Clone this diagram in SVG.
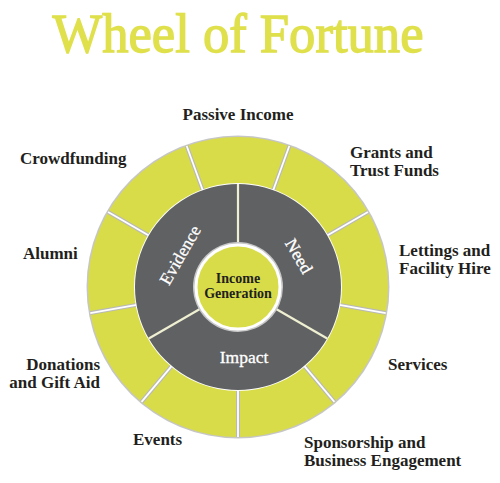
<svg xmlns="http://www.w3.org/2000/svg" width="500" height="483" viewBox="0 0 500 483">
<style>
.lbl{font-family:"Liberation Serif","Times New Roman",serif;font-weight:bold;font-size:17px;fill:#231f20}
.seg{fill:#d8dc48}
.core{fill:#606163}
.in{font-family:"Liberation Serif","Times New Roman",serif;font-size:17.5px;fill:#ffffff;text-anchor:middle;stroke:#ffffff;stroke-width:0.3}
.div1{stroke:#b9b9b9;stroke-width:4}
.div2{stroke:#ffffff;stroke-width:1.8}
.div3{stroke:#efefd2;stroke-width:2.2}
</style>
<rect width="500" height="483" fill="#ffffff"/>
<text x="238" y="52" text-anchor="middle" font-family="Liberation Serif, Times New Roman, serif" font-size="54" fill="#dfe04b" stroke="#dfe04b" stroke-width="1.3" textLength="371" lengthAdjust="spacingAndGlyphs">Wheel of Fortune</text>

<circle cx="238" cy="287" r="151.5" fill="#c6c6c6"/>

<g id="passive-income">
<path class="seg" d="M186.70 146.05 A150 150 0 0 1 289.30 146.05 L273.23 190.21 A103 103 0 0 0 202.77 190.21 Z"/>
<text class="lbl" x="238" y="120" text-anchor="middle">Passive Income</text>
</g>
<g id="grants">
<path class="seg" d="M289.30 146.05 A150 150 0 0 1 367.90 212.00 L327.20 235.50 A103 103 0 0 0 273.23 190.21 Z"/>
<text class="lbl" x="350" y="158">Grants and</text>
<text class="lbl" x="350" y="176">Trust Funds</text>
</g>
<g id="lettings">
<path class="seg" d="M367.90 212.00 A150 150 0 0 1 385.72 313.04 L339.43 304.88 A103 103 0 0 0 327.20 235.50 Z"/>
<text class="lbl" x="399" y="256">Lettings and</text>
<text class="lbl" x="399" y="274">Facility Hire</text>
</g>
<g id="services">
<path class="seg" d="M385.72 313.04 A150 150 0 0 1 334.42 401.90 L304.21 365.90 A103 103 0 0 0 339.43 304.88 Z"/>
<text class="lbl" x="388" y="370">Services</text>
</g>
<g id="sponsorship">
<path class="seg" d="M334.42 401.90 A150 150 0 0 1 238 437 L238 390 A103 103 0 0 0 304.21 365.90 Z"/>
<text class="lbl" x="304" y="448">Sponsorship and</text>
<text class="lbl" x="304" y="466">Business Engagement</text>
</g>
<g id="events">
<path class="seg" d="M238 437 A150 150 0 0 1 141.58 401.90 L171.79 365.90 A103 103 0 0 0 238 390 Z"/>
<text class="lbl" x="133" y="445">Events</text>
</g>
<g id="donations">
<path class="seg" d="M141.58 401.90 A150 150 0 0 1 90.28 313.04 L136.57 304.88 A103 103 0 0 0 171.79 365.90 Z"/>
<text class="lbl" x="100" y="370" text-anchor="end">Donations</text>
<text class="lbl" x="100" y="388" text-anchor="end">and Gift Aid</text>
</g>
<g id="alumni">
<path class="seg" d="M90.28 313.04 A150 150 0 0 1 108.10 212.00 L148.80 235.50 A103 103 0 0 0 136.57 304.88 Z"/>
<text class="lbl" x="23" y="259">Alumni</text>
</g>
<g id="crowdfunding">
<path class="seg" d="M108.10 212.00 A150 150 0 0 1 186.70 146.05 L202.77 190.21 A103 103 0 0 0 148.80 235.50 Z"/>
<text class="lbl" x="20" y="164">Crowdfunding</text>
</g>

<g id="connectors">
<g class="div1">
<line x1="289.30" y1="146.05" x2="273.23" y2="190.21"/>
<line x1="367.90" y1="212.00" x2="327.20" y2="235.50"/>
<line x1="385.72" y1="313.04" x2="339.43" y2="304.88"/>
<line x1="334.42" y1="401.90" x2="304.21" y2="365.90"/>
<line x1="238" y1="437" x2="238" y2="390"/>
<line x1="141.58" y1="401.90" x2="171.79" y2="365.90"/>
<line x1="90.28" y1="313.04" x2="136.57" y2="304.88"/>
<line x1="108.10" y1="212.00" x2="148.80" y2="235.50"/>
<line x1="186.70" y1="146.05" x2="202.77" y2="190.21"/>
</g>
<g class="div2">
<line x1="289.30" y1="146.05" x2="273.23" y2="190.21"/>
<line x1="367.90" y1="212.00" x2="327.20" y2="235.50"/>
<line x1="385.72" y1="313.04" x2="339.43" y2="304.88"/>
<line x1="334.42" y1="401.90" x2="304.21" y2="365.90"/>
<line x1="238" y1="437" x2="238" y2="390"/>
<line x1="141.58" y1="401.90" x2="171.79" y2="365.90"/>
<line x1="90.28" y1="313.04" x2="136.57" y2="304.88"/>
<line x1="108.10" y1="212.00" x2="148.80" y2="235.50"/>
<line x1="186.70" y1="146.05" x2="202.77" y2="190.21"/>
</g>
</g>

<circle cx="238" cy="287" r="104" fill="#ffffff"/>

<g id="need">
<path class="core" d="M238 184 A103 103 0 0 1 327.20 338.50 L275.24 308.50 A43 43 0 0 0 238 244 Z"/>
<text class="in" transform="translate(299,256) rotate(60)" y="6">Need</text>
</g>
<g id="impact">
<path class="core" d="M327.20 338.50 A103 103 0 0 1 148.80 338.50 L200.76 308.50 A43 43 0 0 0 275.24 308.50 Z"/>
<text class="in" x="244" y="363">Impact</text>
</g>
<g id="evidence">
<path class="core" d="M148.80 338.50 A103 103 0 0 1 238 184 L238 244 A43 43 0 0 0 200.76 308.50 Z"/>
<text class="in" transform="translate(180,255) rotate(-60)" y="6">Evidence</text>
</g>
<g id="core-dividers" class="div3">
<line x1="238" y1="184" x2="238" y2="244"/>
<line x1="327.20" y1="338.50" x2="275.24" y2="308.50"/>
<line x1="148.80" y1="338.50" x2="200.76" y2="308.50"/>
</g>

<g id="income-generation">
<circle cx="238" cy="287" r="45" fill="#c8c8c8"/>
<circle cx="238" cy="287" r="42" fill="#d8dc48" stroke="#ffffff" stroke-width="3"/>
<text x="238" y="283" text-anchor="middle" font-family="Liberation Serif, Times New Roman, serif" font-weight="bold" font-size="14" fill="#231f20">Income</text>
<text x="238" y="298" text-anchor="middle" font-family="Liberation Serif, Times New Roman, serif" font-weight="bold" font-size="14" fill="#231f20">Generation</text>
</g>
</svg>
